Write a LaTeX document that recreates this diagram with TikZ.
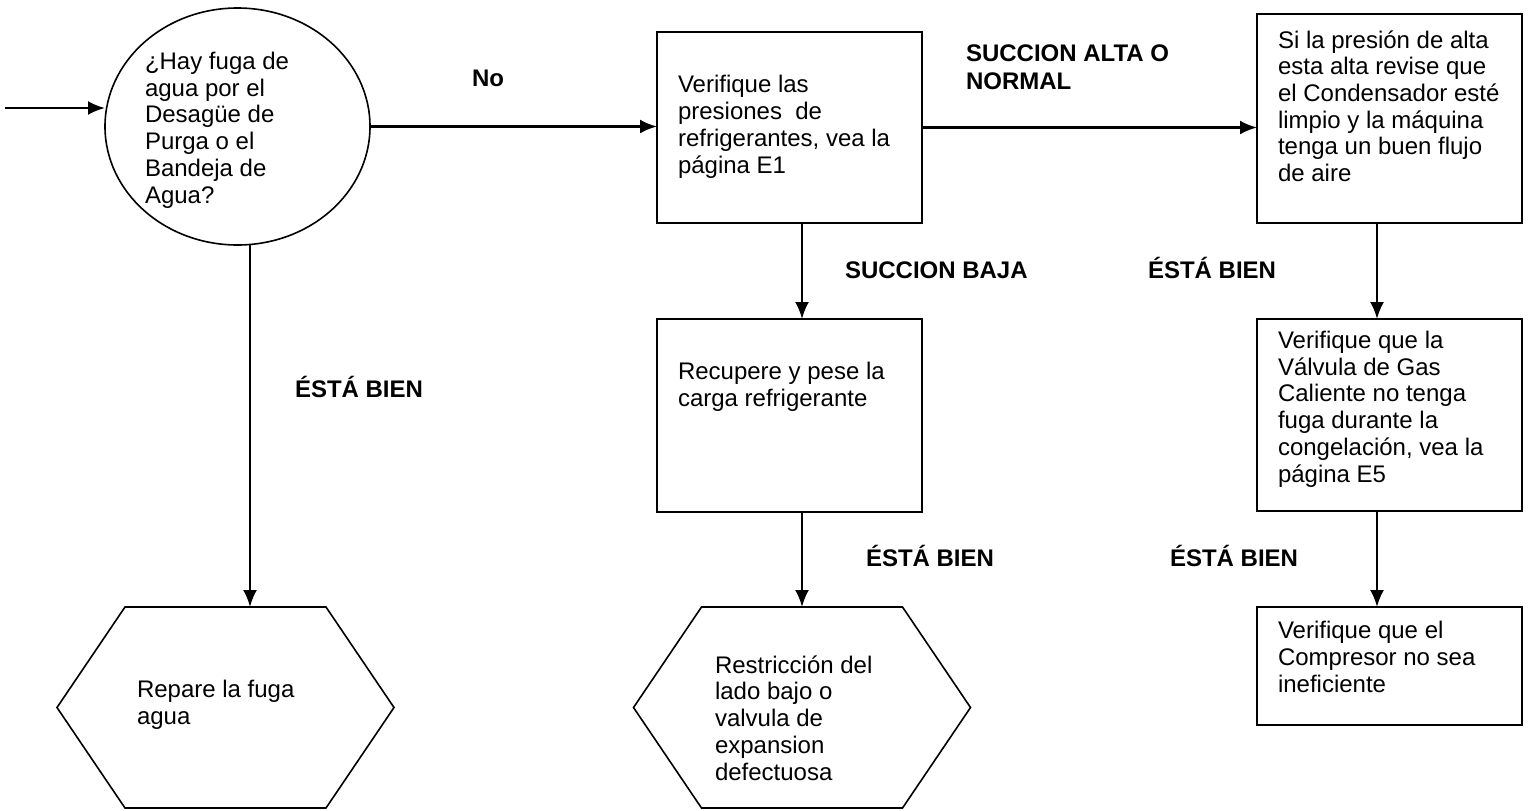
\documentclass[tikz,border=0pt]{standalone}
\usepackage{fontspec}
\setmainfont{Liberation Sans}
\usetikzlibrary{shapes.geometric,arrows.meta}
\begin{document}
\begin{tikzpicture}[x=0.5pt,y=-0.5pt,
  every node/.style={inner sep=0pt,outer sep=0pt},
  box/.style={draw,line width=0.8pt,rectangle,minimum width=132.5pt},
  ell/.style={draw,line width=0.8pt,ellipse,minimum width=132.5pt,minimum height=118.5pt},
  hexa/.style={minimum width=168.5pt,minimum height=100.5pt},
  txt/.style={anchor=base west,align=left,font=\fontsize{12}{13.35}\selectfont},
  lbl/.style={anchor=base west,align=left,font=\fontsize{12}{14}\selectfont\bfseries},
  arr/.style={line width=1.2pt,-{Latex[length=8.5pt,width=7pt]}},
  hexline/.style={draw,line width=0.8pt,line join=miter}]
\useasboundingbox (0,0) rectangle (1530,810);
% shapes
\node[ell] (q) at (237.5,126.5) {};
\node[box,minimum height=95.5pt] (b1) at (789.5,127.5) {};
\node[box,minimum height=96.5pt] (b2) at (789.5,415.5) {};
\node[box,minimum height=104.5pt] (b3) at (1389.5,118.5) {};
\node[box,minimum height=96pt] (b4) at (1389.5,415) {};
\node[box,minimum height=59pt] (b5) at (1389.5,666) {};
\node[hexa] (h1) at (225.5,707.5) {};
\node[hexa] (h2) at (802,707.5) {};
\foreach \h in {h1,h2}{
  \draw[hexline] (\h.west) -- ([xshift=34pt]\h.north west) -- ([xshift=-34pt]\h.north east)
    -- (\h.east) -- ([xshift=-34pt]\h.south east) -- ([xshift=34pt]\h.south west) -- cycle;
}
% texts (base anchor = baseline of last line)
\node[txt] (tq) at (145,203) {¿Hay fuga de\\agua por el\\Desagüe de\\Purga o el\\Bandeja de\\Agua?};
\node[txt] (t1) at (678,173) {Verifique las\\presiones \ de\\refrigerantes, vea la\\página E1};
\node[txt] (t2) at (678,406) {Recupere y pese la\\carga refrigerante};
\node[txt] (t3) at (1278,181.5) {Si la presión de alta\\esta alta revise que\\el Condensador esté\\limpio y la máquina\\tenga un buen flujo\\de aire};
\node[txt] (t4) at (1278,482) {Verifique que la\\Válvula de Gas\\Caliente no tenga\\fuga durante la\\congelación, vea la\\página E5};
\node[txt] (t5) at (1278,692) {Verifique que el\\Compresor no sea\\ineficiente};
\node[txt] (th1) at (137,724) {Repare la fuga\\agua};
\node[txt] (th2) at (715,780) {Restricción del\\lado bajo o\\valvula de\\expansion\\defectuosa};
% labels
\node[lbl] (lno) at (472,86) {No};
\node[lbl] (lalta) at (966,89) {SUCCION ALTA O\\NORMAL};
\node[lbl] (lbaja) at (845,278) {SUCCION BAJA};
\node[lbl] (lok1) at (1148,278) {ÉSTÁ BIEN};
\node[lbl] (lok2) at (295,397) {ÉSTÁ BIEN};
\node[lbl] (lok3) at (866,566) {ÉSTÁ BIEN};
\node[lbl] (lok4) at (1170,566) {ÉSTÁ BIEN};
% connectors
\coordinate (start) at (5,108);
\draw[arr] (start) -- (start -| q.west);
\draw[arr] (q.east) -- (q.east -| b1.west);
\draw[arr] (b1.east) -- (b1.east -| b3.west);
\draw[arr] ([xshift=6.25pt]b1.south) -- ([xshift=6.25pt]b2.north);
\draw[arr] ([xshift=6.25pt]b2.south) -- ([xshift=6.25pt]b2.south |- h2.north);
\draw[arr] ([xshift=6.25pt]q.south) -- ([xshift=6.25pt]q.south |- h1.north);
\draw[arr] ([xshift=-6.25pt]b3.south) -- ([xshift=-6.25pt]b4.north);
\draw[arr] ([xshift=-6.25pt]b4.south) -- ([xshift=-6.25pt]b5.north);
\end{tikzpicture}
\end{document}
